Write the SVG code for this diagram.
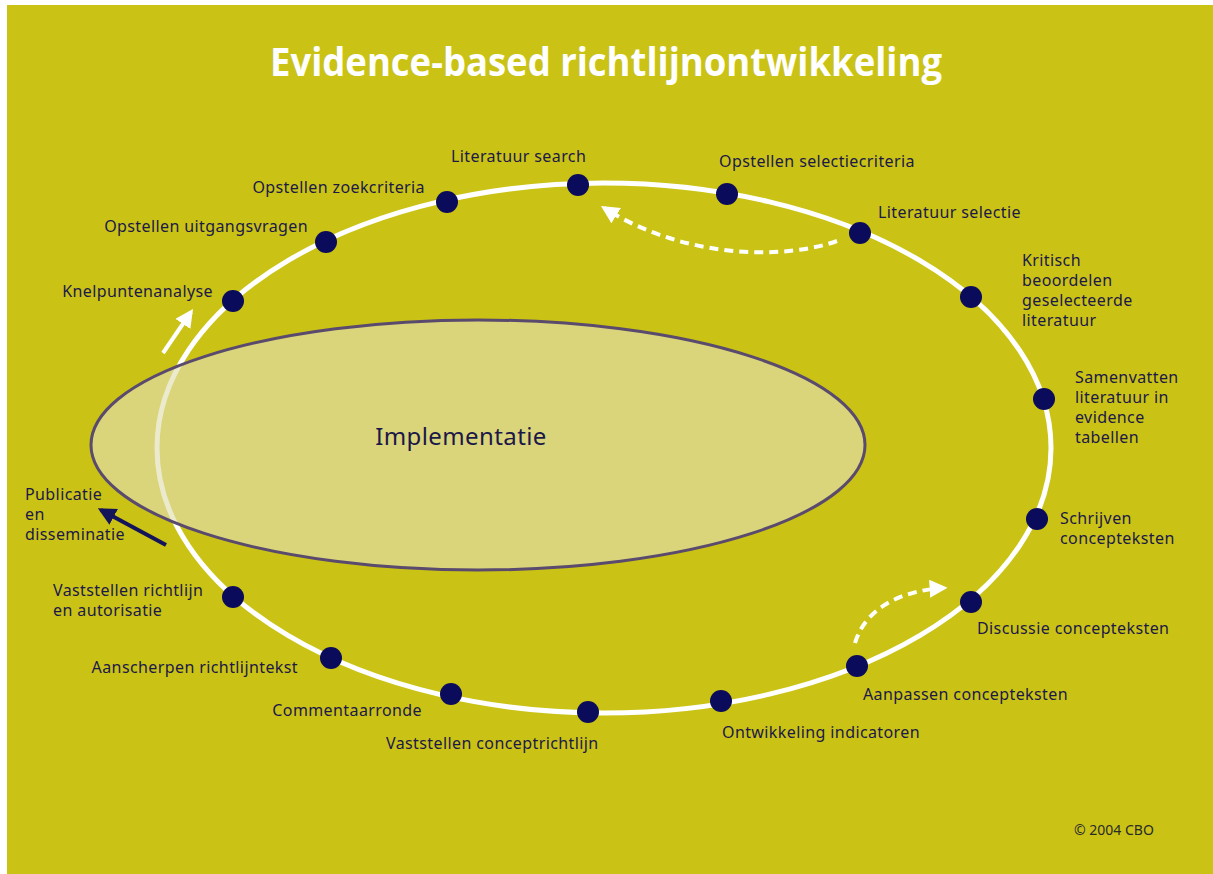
<svg xmlns="http://www.w3.org/2000/svg" width="1213" height="874" viewBox="0 0 1213 874">
<defs>
<style>
.lbl{font-family:"Noto Sans","Liberation Sans",sans-serif;font-size:16px;letter-spacing:0.4px;fill:#1c1848}
.end{text-anchor:end}
.node{fill:#0b0b5c}
.dash{fill:none;stroke:#ffffff;stroke-width:4;stroke-dasharray:9 6}
</style>
<marker id="wh" viewBox="0 0 10 10" refX="8" refY="5" markerWidth="4.5" markerHeight="4.5" orient="auto" markerUnits="strokeWidth">
<path d="M0,0 L10,5 L0,10 Z" fill="#ffffff"/>
</marker>
<marker id="nv" viewBox="0 0 10 10" refX="8" refY="5" markerWidth="4.5" markerHeight="4.5" orient="auto" markerUnits="strokeWidth">
<path d="M0,0 L10,5 L0,10 Z" fill="#14145a"/>
</marker>
</defs>
<rect x="0" y="0" width="1213" height="874" fill="#ffffff"/>
<rect x="7" y="5" width="1206" height="869" fill="#cac315"/>
<text x="606" y="76" text-anchor="middle" font-family="'Open Sans','Liberation Sans',sans-serif" font-weight="bold" font-size="40" fill="#ffffff" textLength="672" lengthAdjust="spacingAndGlyphs">Evidence-based richtlijnontwikkeling</text>

<ellipse id="cycle" cx="604" cy="448" rx="447" ry="265" fill="none" stroke="#ffffff" stroke-width="5"/>

<g id="implementatie">
<ellipse cx="478" cy="445" rx="387" ry="125" fill="#e2dfb1" fill-opacity="0.65" stroke="#5a4a6e" stroke-width="3"/>
<text x="461" y="445" text-anchor="middle" font-family="'Noto Sans','Liberation Sans',sans-serif" font-size="24" letter-spacing="0.4" fill="#1c1848">Implementatie</text>
</g>

<g id="connectors">
<line x1="163" y1="353" x2="191" y2="312" stroke="#ffffff" stroke-width="4" marker-end="url(#wh)"/>
<line x1="166" y1="545" x2="101" y2="510" stroke="#14145a" stroke-width="4" marker-end="url(#nv)"/>
<path class="dash" d="M837,241 C790,258 690,262 604,208" marker-end="url(#wh)"/>
<path class="dash" d="M855,643 C866,606 905,590 944,588" marker-end="url(#wh)"/>
</g>

<g id="n1"><circle class="node" cx="233" cy="301" r="11"/><text class="lbl end" x="213" y="297">Knelpuntenanalyse</text></g>
<g id="n2"><circle class="node" cx="326" cy="242" r="11"/><text class="lbl end" x="308" y="232">Opstellen uitgangsvragen</text></g>
<g id="n3"><circle class="node" cx="447" cy="202" r="11"/><text class="lbl end" x="425" y="193">Opstellen zoekcriteria</text></g>
<g id="n4"><circle class="node" cx="578" cy="185" r="11"/><text class="lbl" x="451" y="162">Literatuur search</text></g>
<g id="n5"><circle class="node" cx="727" cy="194" r="11"/><text class="lbl" x="719" y="167">Opstellen selectiecriteria</text></g>
<g id="n6"><circle class="node" cx="860" cy="233" r="11"/><text class="lbl" x="878" y="218">Literatuur selectie</text></g>
<g id="n7"><circle class="node" cx="971" cy="297" r="11"/><text class="lbl" x="1022" y="266">Kritisch<tspan x="1022" dy="20">beoordelen</tspan><tspan x="1022" dy="20">geselecteerde</tspan><tspan x="1022" dy="20">literatuur</tspan></text></g>
<g id="n8"><circle class="node" cx="1044" cy="399" r="11"/><text class="lbl" x="1075" y="383">Samenvatten<tspan x="1075" dy="20">literatuur in</tspan><tspan x="1075" dy="20">evidence</tspan><tspan x="1075" dy="20">tabellen</tspan></text></g>
<g id="n9"><circle class="node" cx="1037" cy="519" r="11"/><text class="lbl" x="1060" y="524">Schrijven<tspan x="1060" dy="20">concepteksten</tspan></text></g>
<g id="n10"><circle class="node" cx="971" cy="602" r="11"/><text class="lbl" x="977" y="634">Discussie concepteksten</text></g>
<g id="n11"><circle class="node" cx="857" cy="666" r="11"/><text class="lbl" x="863" y="700">Aanpassen concepteksten</text></g>
<g id="n12"><circle class="node" cx="721" cy="701" r="11"/><text class="lbl" x="722" y="738">Ontwikkeling indicatoren</text></g>
<g id="n13"><circle class="node" cx="588" cy="712" r="11"/><text class="lbl" x="386" y="749">Vaststellen conceptrichtlijn</text></g>
<g id="n14"><circle class="node" cx="451" cy="694" r="11"/><text class="lbl end" x="422" y="716">Commentaarronde</text></g>
<g id="n15"><circle class="node" cx="331" cy="658" r="11"/><text class="lbl end" x="298" y="673">Aanscherpen richtlijntekst</text></g>
<g id="n16"><circle class="node" cx="233" cy="597" r="11"/><text class="lbl" x="53" y="596">Vaststellen richtlijn<tspan x="53" dy="20">en autorisatie</tspan></text></g>
<g id="n17"><text class="lbl" x="25" y="500">Publicatie<tspan x="25" dy="20">en</tspan><tspan x="25" dy="20">disseminatie</tspan></text></g>

<text x="1074" y="835" font-family="'Noto Sans','Liberation Sans',sans-serif" font-size="14" fill="#2a2a2a">© 2004 CBO</text>
</svg>
